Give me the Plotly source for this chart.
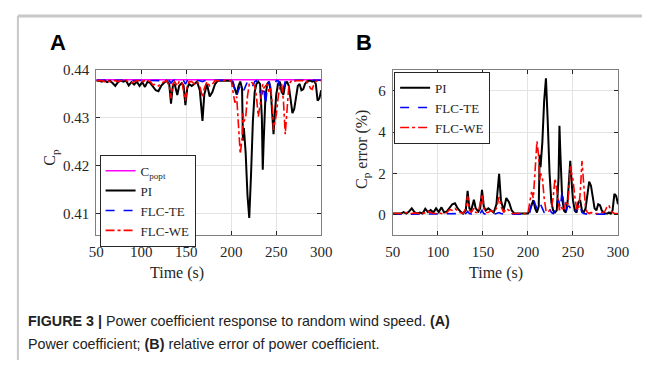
import plotly.graph_objects as go

# ---------------- data ----------------
time_s = [50, 53, 56, 59, 62, 65, 68, 71, 74, 77,
          80, 83, 86, 89, 92, 95, 98, 101, 104, 107,
          110, 113, 116, 119, 122, 125, 128, 131, 133, 135,
          137, 140, 142, 145, 147, 149, 151, 153, 156, 159,
          162, 165, 168, 170, 173, 176, 179, 182, 185, 188,
          191, 194, 197, 200, 202, 204, 206, 208, 210, 212,
          213, 214, 216, 218, 220, 222, 224, 226, 228, 230,
          232, 234, 235, 236, 238, 240, 242, 244, 246, 247,
          248, 250, 252, 254, 256, 258, 260, 262, 264, 266,
          268, 270, 272, 274, 276, 278, 280, 282, 284, 286,
          288, 290, 292, 294, 296, 298, 300]

cp_opt = [0.438] * len(time_s)

cp_pi = [0.4378, 0.4378, 0.4376, 0.4378, 0.4375, 0.4378, 0.4373, 0.4367, 0.4375, 0.4378,
         0.4376, 0.4378, 0.4368, 0.4375, 0.4370, 0.4376, 0.4367, 0.4375, 0.4365, 0.4376,
         0.4373, 0.4365, 0.4358, 0.4356, 0.4367, 0.4373, 0.4378, 0.4371, 0.4330, 0.4367,
         0.4371, 0.4348, 0.4367, 0.4373, 0.4367, 0.4327, 0.4362, 0.4371, 0.4367, 0.4371,
         0.4376, 0.4358, 0.4294, 0.4349, 0.4371, 0.4345, 0.4354, 0.4371, 0.4378, 0.4378,
         0.4378, 0.4378, 0.4378, 0.4378, 0.4371, 0.4358, 0.4349, 0.4367, 0.4376, 0.4362,
         0.4253, 0.4279, 0.4227, 0.4139, 0.4091, 0.4183, 0.4292, 0.4354, 0.4371, 0.4376,
         0.4371, 0.4301, 0.4192, 0.4249, 0.4345, 0.4371, 0.4376, 0.4354, 0.4279, 0.4266,
         0.4297, 0.4349, 0.4371, 0.4376, 0.4354, 0.4349, 0.4371, 0.4376, 0.4367, 0.4336,
         0.4310, 0.4319, 0.4341, 0.4367, 0.4371, 0.4358, 0.4360, 0.4371, 0.4376, 0.4378,
         0.4378, 0.4376, 0.4378, 0.4371, 0.4336, 0.4341, 0.4358]

cp_te = [0.4379] * 20 + [
         0.4379, 0.4379, 0.4378, 0.4378, 0.4379, 0.4379, 0.4379, 0.4378, 0.4373, 0.4378,
         0.4379, 0.4376, 0.4379, 0.4379, 0.4378, 0.4371, 0.4378, 0.4379, 0.4379, 0.4379,
         0.4379, 0.4378, 0.4376, 0.4378, 0.4379, 0.4378, 0.4379, 0.4379, 0.4379, 0.4379,
         0.4379, 0.4379, 0.4379, 0.4379, 0.4376, 0.4362, 0.4345, 0.4358, 0.4367, 0.4371,
         0.4362, 0.4358, 0.4367, 0.4376, 0.4378, 0.4376, 0.4367, 0.4376, 0.4378, 0.4371,
         0.4354, 0.4349, 0.4358, 0.4367, 0.4327, 0.4362, 0.4376, 0.4362, 0.4362, 0.4367,
         0.4371, 0.4378, 0.4378, 0.4367, 0.4354, 0.4362, 0.4376, 0.4378, 0.4379, 0.4379] + [0.4379] * 17

cp_we = [0.4378, 0.4378, 0.4378, 0.4376, 0.4378, 0.4376, 0.4378, 0.4378, 0.4376, 0.4378,
         0.4378, 0.4378, 0.4376, 0.4373, 0.4376, 0.4378, 0.4378, 0.4376, 0.4378, 0.4378,
         0.4376, 0.4369, 0.4371, 0.4367, 0.4373, 0.4376, 0.4378, 0.4367, 0.4341, 0.4371,
         0.4376, 0.4367, 0.4376, 0.4376, 0.4358, 0.4336, 0.4367, 0.4376, 0.4376, 0.4371,
         0.4376, 0.4367, 0.4343, 0.4362, 0.4376, 0.4367, 0.4371, 0.4378, 0.4378, 0.4378,
         0.4378, 0.4378, 0.4378, 0.4378, 0.4354, 0.4332, 0.4345, 0.4284, 0.4225, 0.4257,
         0.4310, 0.4292, 0.4301, 0.4345, 0.4371, 0.4376, 0.4371, 0.4367, 0.4345, 0.4303,
         0.4327, 0.4367, 0.4371, 0.4362, 0.4367, 0.4371, 0.4354, 0.4362, 0.4314, 0.4275,
         0.4288, 0.4306, 0.4341, 0.4367, 0.4371, 0.4336, 0.4266, 0.4327, 0.4367, 0.4376,
         0.4378, 0.4376, 0.4378, 0.4378, 0.4378, 0.4378, 0.4378, 0.4376, 0.4376, 0.4371,
         0.4362, 0.4360, 0.4371, 0.4376, 0.4378, 0.4378, 0.4378]

err_pi = [0.05, 0.05, 0.08, 0.05, 0.12, 0.05, 0.15, 0.30, 0.12, 0.05,
          0.10, 0.05, 0.28, 0.12, 0.22, 0.10, 0.30, 0.12, 0.35, 0.10,
          0.15, 0.35, 0.50, 0.55, 0.30, 0.15, 0.05, 0.20, 1.15, 0.30,
          0.20, 0.72, 0.30, 0.15, 0.30, 1.20, 0.40, 0.20, 0.30, 0.20,
          0.10, 0.50, 1.97, 0.70, 0.20, 0.80, 0.60, 0.20, 0.05, 0.05,
          0.05, 0.05, 0.05, 0.05, 0.20, 0.50, 0.70, 0.30, 0.10, 0.40,
          2.90, 2.30, 3.50, 5.50, 6.60, 4.50, 2.00, 0.60, 0.20, 0.10,
          0.20, 1.80, 4.30, 3.00, 0.80, 0.20, 0.10, 0.60, 2.30, 2.60,
          1.90, 0.70, 0.20, 0.10, 0.60, 0.70, 0.20, 0.10, 0.30, 1.00,
          1.60, 1.40, 0.90, 0.30, 0.20, 0.50, 0.45, 0.20, 0.10, 0.05,
          0.05, 0.10, 0.05, 0.20, 1.00, 0.90, 0.50]

err_te = [0.02, 0.03, 0.02, 0.02, 0.03, 0.02, 0.02, 0.03, 0.02, 0.02,
          0.02, 0.02, 0.03, 0.02, 0.02, 0.03, 0.02, 0.02, 0.03, 0.02,
          0.02, 0.03, 0.05, 0.05, 0.03, 0.02, 0.02, 0.05, 0.15, 0.05,
          0.03, 0.08, 0.03, 0.02, 0.05, 0.20, 0.05, 0.02, 0.03, 0.02,
          0.02, 0.05, 0.10, 0.05, 0.02, 0.05, 0.03, 0.02, 0.02, 0.02,
          0.02, 0.02, 0.02, 0.02, 0.10, 0.40, 0.80, 0.50, 0.30, 0.20,
          0.40, 0.50, 0.30, 0.10, 0.05, 0.10, 0.30, 0.10, 0.05, 0.20,
          0.60, 0.70, 0.50, 0.30, 1.20, 0.40, 0.10, 0.40, 0.40, 0.30,
          0.20, 0.05, 0.05, 0.30, 0.60, 0.40, 0.10, 0.05, 0.02, 0.02,
          0.02, 0.02, 0.02, 0.02, 0.02, 0.02, 0.02, 0.02, 0.02, 0.02,
          0.02, 0.02, 0.02, 0.02, 0.02, 0.02, 0.02]

err_we = [0.05, 0.05, 0.05, 0.08, 0.05, 0.10, 0.05, 0.05, 0.08, 0.05,
          0.05, 0.05, 0.08, 0.15, 0.10, 0.05, 0.05, 0.08, 0.05, 0.05,
          0.10, 0.25, 0.20, 0.30, 0.15, 0.10, 0.05, 0.30, 0.90, 0.20,
          0.10, 0.30, 0.10, 0.10, 0.50, 1.00, 0.30, 0.10, 0.10, 0.20,
          0.10, 0.30, 0.85, 0.40, 0.10, 0.30, 0.20, 0.05, 0.05, 0.05,
          0.05, 0.05, 0.05, 0.05, 0.60, 1.10, 0.80, 2.20, 3.55, 2.80,
          1.60, 2.00, 1.80, 0.80, 0.20, 0.10, 0.20, 0.30, 0.80, 1.75,
          1.20, 0.30, 0.20, 0.40, 0.30, 0.20, 0.60, 0.40, 1.50, 2.40,
          2.10, 1.70, 0.90, 0.30, 0.20, 1.00, 2.60, 1.20, 0.30, 0.10,
          0.05, 0.10, 0.05, 0.05, 0.05, 0.05, 0.05, 0.10, 0.10, 0.20,
          0.40, 0.45, 0.20, 0.10, 0.05, 0.05, 0.05]

x_ticks = [50, 100, 150, 200, 250, 300]
ya_ticks = [0.41, 0.42, 0.43, 0.44]
yb_ticks = [0, 2, 4, 6]

# ---------------- figure ----------------
# The page body keeps its default 8 px margin, so the figure is 16 px
# smaller than the window and all page positions are shifted by 8 px.
OFF = 8
W, H = 661 - 2 * OFF, 368 - 2 * OFF
SERIF = "Liberation Serif"
SANS = "Liberation Sans"


def px(x):
    return (x - OFF) / W


def py(y):
    return 1 - (y - OFF) / H


fig = go.Figure()

# Panel A
fig.add_trace(go.Scatter(x=time_s, y=cp_opt, mode="lines", name="C<sub>popt</sub>",
                         line=dict(color="#ff00ff", width=1.5), legend="legend",
                         xaxis="x", yaxis="y"))
fig.add_trace(go.Scatter(x=time_s, y=cp_pi, mode="lines", name="PI",
                         line=dict(color="black", width=2), legend="legend",
                         xaxis="x", yaxis="y"))
fig.add_trace(go.Scatter(x=time_s, y=cp_te, mode="lines", name="FLC-TE",
                         line=dict(color="#0000ff", width=1.6, dash="dash"), legend="legend",
                         xaxis="x", yaxis="y"))
fig.add_trace(go.Scatter(x=time_s, y=cp_we, mode="lines", name="FLC-WE",
                         line=dict(color="#ff0000", width=1.6, dash="dashdot"), legend="legend",
                         xaxis="x", yaxis="y"))

# Panel B
fig.add_trace(go.Scatter(x=time_s, y=err_pi, mode="lines", name="PI",
                         line=dict(color="black", width=2), legend="legend2",
                         xaxis="x2", yaxis="y2"))
fig.add_trace(go.Scatter(x=time_s, y=err_te, mode="lines", name="FLC-TE",
                         line=dict(color="#0000ff", width=1.6, dash="dash"), legend="legend2",
                         xaxis="x2", yaxis="y2"))
fig.add_trace(go.Scatter(x=time_s, y=err_we, mode="lines", name="FLC-WE",
                         line=dict(color="#ff0000", width=1.6, dash="dashdot"), legend="legend2",
                         xaxis="x2", yaxis="y2"))

axis_common = dict(
    showline=True, linecolor="#7f7f7f", linewidth=1, mirror="ticks",
    ticks="inside", ticklen=4, tickcolor="#262626", tickwidth=1,
    showgrid=True, gridcolor="#e3e3e3", gridwidth=1, zeroline=False,
    tickfont=dict(family=SERIF, size=15, color="#262626"),
)

legend_common = dict(xanchor="left", yanchor="top",
                     bgcolor="white", bordercolor="#262626", borderwidth=1,
                     font=dict(family=SERIF, size=13, color="#262626"),
                     tracegroupgap=0, itemwidth=30)

fig.update_layout(
    width=W, height=H,
    margin=dict(l=0, r=0, t=0, b=0),
    paper_bgcolor="white", plot_bgcolor="white",
    xaxis=dict(domain=[px(91.7), px(323.0)], range=[50, 300], tickvals=x_ticks,
               anchor="y", ticklabelstandoff=3, **axis_common),
    yaxis=dict(domain=[py(232.3), py(63.4)], range=[0.4055, 0.44], tickvals=ya_ticks,
               tickformat=".2f", anchor="x", ticklabelstandoff=3, **axis_common),
    xaxis2=dict(domain=[px(396.7), px(628.3)], range=[50, 300], tickvals=x_ticks,
                anchor="y2", ticklabelstandoff=3, **axis_common),
    yaxis2=dict(domain=[py(232.3), py(63.4)], range=[-1, 7], tickvals=yb_ticks,
                anchor="x2", ticklabelstandoff=3, **axis_common),
    legend=dict(x=px(95), y=py(150), **legend_common),
    legend2=dict(x=px(398), y=py(65), **legend_common),
    showlegend=True,
)

annotations = [
    dict(text="<b>A</b>", x=px(52), y=py(35), font=dict(family=SANS, size=22, color="black")),
    dict(text="<b>B</b>", x=px(367), y=py(35), font=dict(family=SANS, size=22, color="black")),
    dict(text="C<sub>p</sub>", x=px(45), y=py(152), textangle=-90,
         font=dict(family=SERIF, size=16, color="#262626")),
    dict(text="C<sub>p</sub> error (%)", x=px(366), y=py(145), textangle=-90,
         font=dict(family=SERIF, size=16, color="#262626")),
    dict(text="Time (s)", x=px(175), y=py(271), font=dict(family=SERIF, size=16, color="#262626")),
    dict(text="Time (s)", x=px(503), y=py(271), font=dict(family=SERIF, size=16, color="#262626")),
    dict(text="<b>FIGURE 3 |</b> Power coefficient response to random wind speed. <b>(A)</b>",
         x=px(19), y=py(320), xanchor="left",
         font=dict(family=SANS, size=14.3, color="#222222")),
    dict(text="Power coefficient; <b>(B)</b> relative error of power coefficient.",
         x=px(19), y=py(344), xanchor="left",
         font=dict(family=SANS, size=14.3, color="#222222")),
]
for a in annotations:
    a.setdefault("xanchor", "center")
    a.update(xref="paper", yref="paper", yanchor="middle", showarrow=False)
fig.update_layout(annotations=annotations)

# outer frame lines (top and left) of the figure panel
fig.update_layout(shapes=[
    dict(type="line", xref="paper", yref="paper", x0=px(11), x1=1, y0=1, y1=1,
         line=dict(color="#c8c8c8", width=3)),
    dict(type="line", xref="paper", yref="paper", x0=px(11), x1=px(11), y0=0, y1=1,
         line=dict(color="#c8c8c8", width=2)),
])

fig.write_html("out.html", config={"displayModeBar": False})
